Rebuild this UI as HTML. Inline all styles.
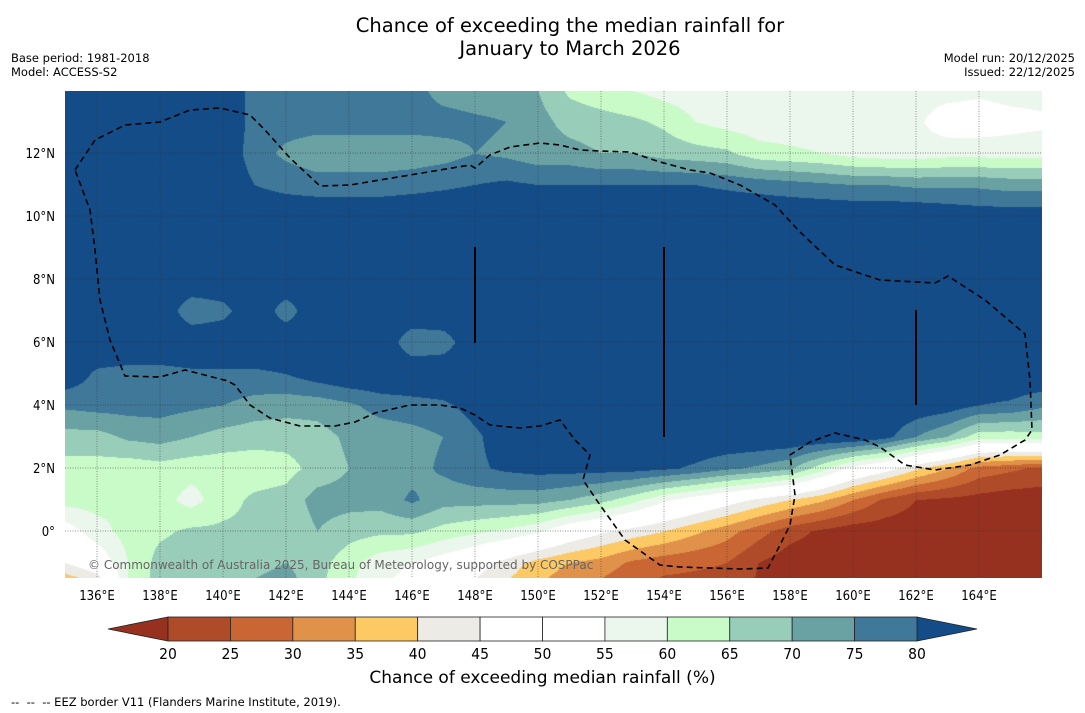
<!DOCTYPE html>
<html><head><meta charset="utf-8">
<style>
body{margin:0;background:#fff;width:1085px;height:713px;overflow:hidden;position:relative;font-family:"DejaVu Sans","Liberation Sans",sans-serif;}
.t{position:absolute;white-space:nowrap;color:#000;}
</style></head>
<body>
<div class="t" style="left:0;width:1140px;top:14px;text-align:center;font-size:19.5px;line-height:23px;">Chance of exceeding the median rainfall for<br>January to March 2026</div>
<div class="t" style="left:11px;top:51px;font-size:11.5px;line-height:14px;">Base period: 1981-2018<br>Model: ACCESS-S2</div>
<div class="t" style="right:10px;top:51px;font-size:11.5px;line-height:14px;text-align:right;">Model run: 20/12/2025<br>Issued: 22/12/2025</div>
<canvas id="map" width="977" height="487" style="position:absolute;left:65px;top:91px;"></canvas>
<svg id="ov" width="1085" height="713" style="position:absolute;left:0;top:0;"></svg>
<div class="t" style="left:88px;top:558px;font-size:12px;color:#666;">© Commonwealth of Australia 2025, Bureau of Meteorology, supported by COSPPac</div>
<div class="t" style="left:0;width:1085px;top:668px;text-align:center;font-size:17px;">Chance of exceeding median rainfall (%)</div>
<div class="t" style="left:11px;top:695px;font-size:11.5px;">--&nbsp; --&nbsp; -- EEZ border V11 (Flanders Marine Institute, 2019).</div>
<script>
const lons=[135,136,137,138,139,140,141,142,143,144,145,146,147,148,149,150,151,152,153,154,155,156,157,158,159,160,161,162,163,164,165,166];
const lats=[14,13,12,11,10,9,8,7,6,5,4,3,2,1,0,-1,-2];
const r14=[85,85,85,85,85,85,78,77,76,76,77,77,73,72,72,70,64,62,60,58,57,57,57,57,57,58,60,57,57,56,57,57];
const r13=[85,85,85,85,85,85,78,77,77,77,77,77,77,76,75,72,68,67,66,64,60,58,57,57,57,57,57,56,52,52,53,54];
const r12=[85,85,85,85,85,85,77,74,72,72,72,72,73,75,74,72,72,70,70,68,67,66,62,61,60,58,57,57,58,58,58,58];
const r11=[85,85,85,85,85,85,80,78,77,77,77,78,79,80,81,80,80,80,80,80,80,79,78,77,76,75,75,74,74,74,73,73];
const r10=[85,85,85,85,85,85,85,85,85,85,85,85,85,85,85,85,85,85,85,85,85,85,85,85,85,85,85,85,84,83,83,83];
const r9=[85,85,85,85,85,85,85,85,85,85,85,85,85,85,85,85,85,85,85,85,85,85,85,85,85,85,85,85,85,85,85,85];
const r8=[85,85,85,85,85,85,85,85,85,85,85,85,85,85,85,85,85,85,85,85,85,85,85,85,85,85,85,85,85,85,85,85];
const r7=[85,85,85,85,76,78,85,77,85,85,85,85,85,85,85,85,85,85,85,85,85,85,85,85,85,85,85,85,85,85,85,85];
const r6=[85,85,85,85,85,85,85,85,85,85,85,76,77,85,85,85,85,85,85,85,85,85,85,85,85,85,85,85,85,85,85,85];
const r5=[84,79,78,78,79,79,79,80,83,85,85,85,85,85,85,85,85,85,85,85,85,85,85,85,85,85,85,85,85,85,85,85];
const r4=[76,77,77,77,76,75,73,72,72,74,77,78,79,82,84,85,85,85,85,85,85,85,85,85,85,85,85,84,83,80,79,76];
const r3=[68,68,71,72,70,68,67,67,68,71,72,73,75,79,83,85,85,85,85,85,85,85,85,85,85,85,82,75,70,62,62,63];
const r2=[63,63,62,63,62,62,62,63,67,70,72,73,76,79,81,82,82,82,82,81,79,76,74,71,62,53,48,41,35,28,26,24];
const r1=[62,62,60,62,58,63,66,67,72,72,72,76,72,72,72,72,70,67,62,56,52,48,44,40,36,30,24,20,19,18,17,17];
const r0=[52,58,62,64,66,66,66,66,70,67,66,66,63,61,59,56,50,46,43,40,36,32,27,22,19,17,17,17,17,17,17,17];
const rm1=[45,50,60,67,68,68,68,70,67,62,57,55,52,48,43,38,35,33,29,27,26,25,20,17,17,17,17,17,17,17,17,17];
const rm2=[30,35,60,68,70,72,72,74,66,60,55,52,48,42,38,34,30,27,24,22,22,22,19,17,17,17,17,17,17,17,17,17];
const grid=[r14,r13,r12,r11,r10,r9,r8,r7,r6,r5,r4,r3,r2,r1,r0,rm1,rm2];
const levels=[20,25,30,35,40,45,50,55,60,65,70,75,80];
const colors=['#97311f','#b04b2a','#c96634','#e0924a','#fdc964','#ecebe6','#ffffff','#ffffff','#ebf6ec','#c9fbc9','#98cdb9','#6aa2a4','#3f7898','#134c87'];
const lonTicks=[136,138,140,142,144,146,148,150,152,154,156,158,160,162,164];
const latTicks=[0,2,4,6,8,10,12];

const X0=65,Y0=91,W=977,H=487,DEG=31.5,LON0=135;
const xOf=lon=>X0+(lon-LON0)*DEG+0.5;
const yOf=lat=>531-lat*DEG;
function hex(c){return [parseInt(c.slice(1,3),16),parseInt(c.slice(3,5),16),parseInt(c.slice(5,7),16)];}
const rgb=colors.map(hex);
function val(lon,lat){
  let fi=(lon-lons[0]); let fj=(lats[0]-lat);
  fi=Math.max(0,Math.min(lons.length-1.0001,fi)); fj=Math.max(0,Math.min(lats.length-1.0001,fj));
  const i=Math.floor(fi),j=Math.floor(fj),a=fi-i,b=fj-j;
  return grid[j][i]*(1-a)*(1-b)+grid[j][i+1]*a*(1-b)+grid[j+1][i]*(1-a)*b+grid[j+1][i+1]*a*b;
}
function bin(v){let k=0;while(k<levels.length&&v>=levels[k])k++;return k;}
const cv=document.getElementById('map');const ctx=cv.getContext('2d');
const img=ctx.createImageData(W,H);
for(let py=0;py<H;py++){const lat=(531-(Y0+py))/DEG;
  for(let px=0;px<W;px++){const lon=LON0+px/DEG;
    const c=rgb[bin(val(lon,lat))];const o=(py*W+px)*4;
    img.data[o]=c[0];img.data[o+1]=c[1];img.data[o+2]=c[2];img.data[o+3]=255;}}
ctx.putImageData(img,0,0);

const NS='http://www.w3.org/2000/svg';const ov=document.getElementById('ov');
function mk(t,at,parent){const e=document.createElementNS(NS,t);for(const k in at)e.setAttribute(k,at[k]);(parent||ov).appendChild(e);return e;}
lonTicks.forEach(l=>{const x=xOf(l);
  const g=mk('line',{x1:x,x2:x,y1:Y0,y2:Y0+H,stroke:'#333','stroke-width':0.7,'stroke-dasharray':'1,1.5',opacity:0.7});
  
  
  const t=mk('text',{x:x,y:600,'text-anchor':'middle','font-size':13,'font-family':'DejaVu Sans Condensed, DejaVu Sans, sans-serif'});
  t.textContent=l+'°E';
  
  
});
latTicks.forEach(l=>{const y=yOf(l);
  const g=mk('line',{x1:X0,x2:X0+W,y1:y,y2:y,stroke:'#333','stroke-width':0.7,'stroke-dasharray':'1,1.5',opacity:0.7});
  
  
  const t=mk('text',{x:55,y:y+5,'text-anchor':'end','font-size':13,'font-family':'DejaVu Sans Condensed, DejaVu Sans, sans-serif'});
  t.textContent=(l===0?'0°':l+'°N');
  
  
});
[[475,247,343],[664,247,437],[916,310,405]].forEach(s=>{const e=mk('line',{x1:s[0],x2:s[0],y1:s[1],y2:s[2],stroke:'#000','stroke-width':2});
  
  });
const eez=[[75,170],[95,140],[125,125],[160,122],[190,110],[220,108],[250,115],[265,130],[290,158],[320,186],[350,185],[380,180],[410,175],[440,170],[470,165],[475,168],[490,155],[510,147],[540,143],[560,145],[580,150],[600,151],[630,152],[660,162],[690,170],[710,173],[740,185],[775,205],[800,232],[835,265],[880,280],[935,283],[948,276],[985,300],[1025,334],[1030,380],[1032,430],[1025,440],[1000,455],[970,465],[935,470],[905,465],[880,447],[865,440],[835,433],[810,442],[790,455],[795,495],[790,525],[780,545],[768,568],[740,569],[680,567],[660,565],[625,540],[600,505],[583,480],[590,455],[575,440],[560,420],[540,426],[520,428],[490,425],[475,415],[460,408],[440,405],[410,405],[375,413],[355,422],[335,426],[300,426],[270,418],[250,405],[235,385],[228,381],[185,370],[160,377],[125,376],[110,340],[100,300],[95,250],[90,210],[75,170]];
const ez=mk('polyline',{points:eez.map(p=>p.join(',')).join(' '),fill:'none',stroke:'#000','stroke-width':1.6,'stroke-dasharray':'6,4'});


const CB0=168,CB1=917,CBY=617,CBH=24,bw=(CB1-CB0)/12;
const lt=mk('polygon',{points:`${CB0},${CBY} 108,${CBY+CBH/2} ${CB0},${CBY+CBH}`,fill:colors[0],stroke:'#222','stroke-width':0.8});


const rt=mk('polygon',{points:`${CB1},${CBY} 977,${CBY+CBH/2} ${CB1},${CBY+CBH}`,fill:colors[13],stroke:'#222','stroke-width':0.8});


for(let k=0;k<12;k++){const r=mk('rect',{x:CB0+k*bw,y:CBY,width:bw,height:CBH,fill:colors[k+1],stroke:'#222','stroke-width':0.8});
  
  }
levels.forEach((v,k)=>{const t=mk('text',{x:CB0+k*bw,y:659,'text-anchor':'middle','font-size':15.5,'font-family':'DejaVu Sans Condensed, DejaVu Sans, sans-serif'});
  t.textContent=v;
  
  });
</script>
</body></html>
